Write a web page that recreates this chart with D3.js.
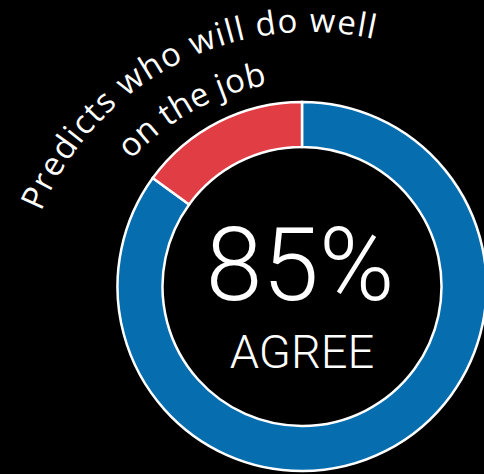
<!DOCTYPE html>
<html>
<head>
<meta charset="utf-8">
<script src="https://cdn.jsdelivr.net/npm/d3@7"></script>
<style>
  html, body { margin: 0; padding: 0; background: #000; }
  svg { display: block; }
</style>
</head>
<body>
<script>
// donut data: share of respondents
const categories = ["Agree", "Disagree"];
const shares = [85, 15];
const colours = ["#066daf", "#e13d44"];

// labels
const headlineValue = "85%";
const headlineLabel = "AGREE";
const captionLines = ["Predicts who will do well", "on the job"];

const width = 484,
    height = 474,
    cx = 302,
    cy = 286.5,
    outerR = 184.5,
    innerR = 139.5;

const svg = d3.select("body").append("svg")
    .attr("width", width)
    .attr("height", height)
    .attr("viewBox", `0 0 ${width} ${height}`);

svg.append("rect")
    .attr("width", width)
    .attr("height", height)
    .attr("fill", "#000");

const pie = d3.pie().sort(null).value(d => d.value);
const arc = d3.arc().innerRadius(innerR).outerRadius(outerR);

const slices = pie(categories.map((c, i) => ({ name: c, value: shares[i] })));

const donut = svg.append("g")
    .attr("transform", "translate(" + cx + "," + cy + ")");

donut.selectAll("path")
    .data(slices)
    .enter()
    .append("path")
    .attr("d", arc)
    .attr("fill", (d, i) => colours[i])
    .attr("stroke", "#fff")
    .attr("stroke-width", 2.5);

donut.append("text")
    .attr("x", -2)
    .attr("y", 300 - cy)
    .attr("text-anchor", "middle")
    .attr("fill", "#fff")
    .style("font-family", "Roboto, sans-serif")
    .style("font-weight", 300)
    .style("font-size", "102px")
    .text(headlineValue);

donut.append("text")
    .attr("x", 0)
    .attr("y", 368 - cy)
    .attr("text-anchor", "middle")
    .attr("fill", "#fff")
    .style("font-family", "Roboto, sans-serif")
    .style("font-weight", 300)
    .style("font-size", "47px")
    .text(headlineLabel);

// curved caption, set along two concentric arcs
const capCx = 310,
    capCy = 323,
    deg = Math.PI / 180;
const captionArcs = [
    { r: 291, a0: -67.5, a1: 12.6 },
    { r: 242, a0: -47.6, a1: -10.2 }
];

const defs = svg.append("defs");
captionArcs.forEach((a, i) => {
    const p = d3.path();
    p.arc(capCx, capCy, a.r, (a.a0 - 90) * deg, (a.a1 - 90) * deg + 0.6);
    defs.append("path")
        .attr("id", "cap" + i)
        .attr("d", p.toString());
});

captionLines.forEach((line, i) => {
    const a = captionArcs[i];
    svg.append("text")
        .attr("fill", "#fff")
        .style("font-family", "'Open Sans', sans-serif")
        .style("font-weight", 400)
        .style("font-size", "33px")
        .append("textPath")
        .attr("href", "#cap" + i)
        .attr("textLength", a.r * (a.a1 - a.a0) * deg)
        .attr("lengthAdjust", "spacing")
        .text(line);
});
</script>
</body>
</html>
